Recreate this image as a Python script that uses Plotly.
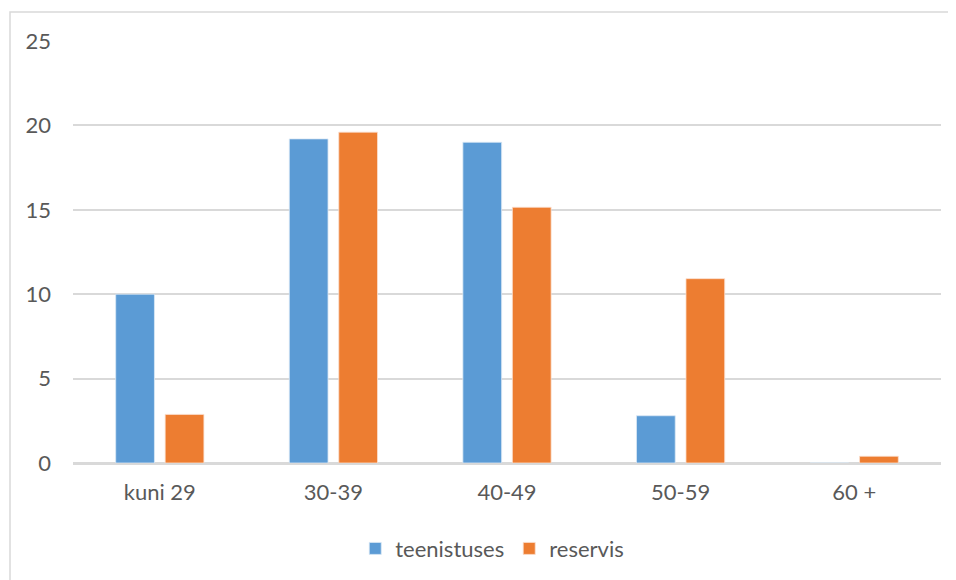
import plotly.graph_objects as go

categories = ["kuni 29", "30-39", "40-49", "50-59", "60 +"]
teenistuses = [10.0, 19.2, 19.0, 2.8, 0]
reservis = [2.88, 19.6, 15.15, 10.92, 0.4]
series_names = ["teenistuses", "reservis"]
y_ticks = [0, 5, 10, 15, 20, 25]

BLUE = "#5B9BD5"
ORANGE = "#ED7D31"
TEXT = "#595959"
GRID = "#D9D9D9"
FONT = "Lato"

fig = go.Figure()
fig.add_trace(go.Bar(x=categories, y=teenistuses, name=series_names[0],
                     marker=dict(color=BLUE, line=dict(color="#dbe8f5", width=0.8))))
fig.add_trace(go.Bar(x=categories, y=reservis, name=series_names[1],
                     marker=dict(color=ORANGE, line=dict(color="#fbe0cf", width=0.8))))

# page body has an 8px margin, so the figure is offset by 8px
fig.update_layout(
    width=948, height=572,
    margin=dict(l=65, r=15, t=33, b=116),
    paper_bgcolor="white", plot_bgcolor="white",
    barmode="group", bargap=0.43, bargroupgap=0.217,
    font=dict(family=FONT, size=22, color=TEXT),
    showlegend=True,
    legend=dict(orientation="h", x=0.483, xanchor="center", y=-0.20, yanchor="middle",
                font=dict(family=FONT, size=22, color=TEXT), itemwidth=30,
                traceorder="normal"),
    xaxis=dict(showgrid=False, showline=True, linecolor=GRID, linewidth=1.5,
               ticks="", tickfont=dict(size=22, color=TEXT), ticklabelstandoff=9),
    yaxis=dict(range=[0, 25], tickvals=y_ticks, showgrid=True, gridcolor=GRID, gridwidth=1.5,
               zeroline=True, zerolinecolor=GRID, zerolinewidth=1.5, showline=False,
               ticks="", tickfont=dict(size=22, color=TEXT), ticklabelstandoff=21),
    shapes=[dict(type="rect", xref="paper", yref="paper",
                 x0=(10 - 73) / 868, x1=1.1, y0=-0.4, y1=(464 - 12) / 423,
                 line=dict(color=GRID, width=1.5), fillcolor="rgba(0,0,0,0)", layer="below")],
)

fig.write_html("out.html")
